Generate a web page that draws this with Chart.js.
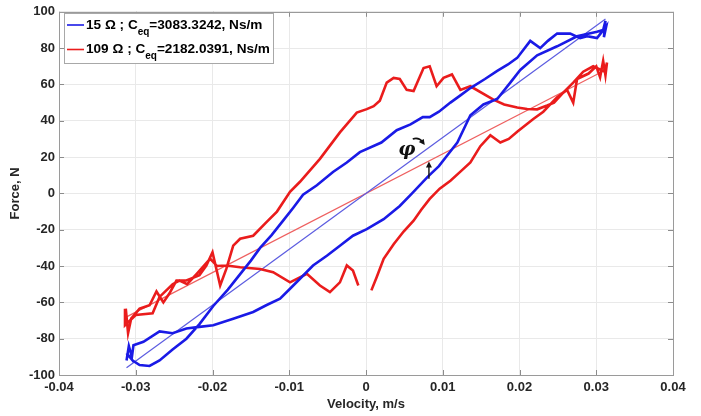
<!DOCTYPE html>
<html>
<head>
<meta charset="utf-8">
<script src="https://cdn.jsdelivr.net/npm/chart.js"></script>
<style>
body { margin: 0; background: #fff; }
</style>
</head>
<body>
<canvas id="hyst_chart" width="701" height="416"></canvas>
<script>
// velocity (m/s), force (N)
var blueVel = [-0.0312, -0.0309, -0.0305, -0.0303, -0.0290, -0.0269, -0.0252, -0.0234, -0.0217, -0.0199, -0.0173, -0.0147, -0.0130, -0.0112, -0.0099, -0.0086, -0.0069, -0.0051, -0.0034, -0.0017, 0.0001, 0.0023, 0.0044, 0.0060, 0.0080, 0.0095, 0.0106, 0.0119, 0.0136, 0.0153, 0.0171, 0.0188, 0.0201, 0.0223, 0.0249, 0.0275, 0.0301, 0.0309, 0.0312, 0.0310, 0.0313,
    0.0301, 0.0288, 0.0279, 0.0266, 0.0249, 0.0237, 0.0227, 0.0214, 0.0197, 0.0185, 0.0171, 0.0155, 0.0136, 0.0123, 0.0110, 0.0095, 0.0083, 0.0074, 0.0058, 0.0040, 0.0020, -0.0008, -0.0025, -0.0043, -0.0064, -0.0082, -0.0095, -0.0108, -0.0123, -0.0138, -0.0150, -0.0165, -0.0180, -0.0199, -0.0217, -0.0234, -0.0252, -0.0269, -0.0282, -0.0295, -0.0304, -0.0312];
var blueForce = [-92, -84, -90, -83.6, -81.7, -76, -77, -74.4, -73.5, -72.6, -69, -65.3, -61.6, -58, -52.5, -47, -39.7, -34.3, -28.8, -23.3, -19.7, -14.2, -6.9, 0, 9, 15, 21, 28, 43, 49, 52, 61, 68, 76, 81, 86.5, 89, 90, 95, 86, 92,
    85.5, 86.6, 85.5, 88, 88, 84, 80, 84, 74.6, 71, 67.5, 63, 58, 54, 50, 45, 42, 42, 38, 34.8, 28, 22.7, 17, 11.8, 4.5, -0.7, -8, -15, -23, -30, -37, -45, -53, -62, -72, -80, -86, -92, -95, -94.5, -92, -88];

var redVel = [0.0007, 0.0014, 0.0023, 0.0036, 0.0049, 0.0062, 0.0072, 0.0083, 0.0096, 0.0110, 0.0123, 0.0136, 0.0149, 0.0162, 0.0175, 0.0186, 0.0197, 0.0218, 0.0231, 0.0249, 0.0262, 0.0270, 0.0275, 0.0290, 0.0300, 0.0305, 0.0309, 0.0312, 0.0314, 0.0311,
    0.0296, 0.0283, 0.0270, 0.0257, 0.0245, 0.0236, 0.0223, 0.0210, 0.0197, 0.0180, 0.0166, 0.0136, 0.0123, 0.0112, 0.0101, 0.0092, 0.0083, 0.0075, 0.0062, 0.0053, 0.0044, 0.0036, 0.0027, 0.0018, 0.0010, 0.0001, -0.0012, -0.0034, -0.0060, -0.0086, -0.0099, -0.0116, -0.0130, -0.0147, -0.0164, -0.0173, -0.0182, -0.0190, -0.0200, -0.0208, -0.0217, -0.0234, -0.0247, -0.0256, -0.0264, -0.0273, -0.0282, -0.0295, -0.0306, -0.0310, -0.0313, -0.0314,
    -0.0300, -0.0278, -0.0269, -0.0252, -0.0243, -0.0233, -0.0220, -0.0203, -0.0194, -0.0182, -0.0164, -0.0138, -0.0121, -0.0099, -0.0077, -0.0060, -0.0047, -0.0034, -0.0025, -0.0017, -0.0010];
var redForce = [-53.4, -46, -36, -28, -21, -15, -9, -3, 2.6, 7, 12, 17, 26, 32, 28, 30, 34, 41, 45, 53, 57, 50, 63, 66, 70, 64, 73, 65, 72, 67,
    70, 67, 61, 55.5, 50, 48.4, 46.3, 46.5, 47.3, 49, 51.6, 59, 57, 65.5, 63.6, 59, 70, 69, 56.4, 57, 63, 63.6, 61, 51, 48, 46.4, 44.5, 33.6, 19, 6.4, 0.9, -10, -16, -23.3, -25, -28.8, -41.6, -50.7, -32.4, -39.7, -45, -48, -48, -55, -60, -54, -61.6, -63.5, -69, -77, -63.5, -72.6,
    -67, -66, -57, -50, -48, -50, -44, -36, -40, -39.7, -40.7, -41.6, -43.4, -49, -44.3, -50.7, -54.4, -49, -39.7, -42.5, -50.7];

// equivalent damping lines (end points)
var blueFitVel = [-0.0312, 0.0312];
var blueFitForce = [-96, 96];
var redFitVel = [-0.0312, 0.0312];
var redFitForce = [-68, 68];

var xTicks = [-0.04, -0.03, -0.02, -0.01, 0, 0.01, 0.02, 0.03, 0.04];
var xTickLabels = ['-0.04', '-0.03', '-0.02', '-0.01', '0', '0.01', '0.02', '0.03', '0.04'];
var yTicks = [-100, -80, -60, -40, -20, 0, 20, 40, 60, 80, 100];

var legendRows = [
    {color: '#1a1ae6', pre: '15 \u03a9 ; C', sub: 'eq', post: '=3083.3242, Ns/m'},
    {color: '#ea1c1c', pre: '109 \u03a9 ; C', sub: 'eq', post: '=2182.0391, Ns/m'}
];

function pts(xs, ys) {
    return xs.map(function (x, i) { return {x: x, y: ys[i]}; });
}

var FONT = "'Liberation Sans', Arial, sans-serif";
var TXT = '#262626';

var boxPlugin = {
    id: 'matlabBox',
    afterDraw: function (chart) {
        var ctx = chart.ctx, a = chart.chartArea;
        var xs = chart.scales.x, ys = chart.scales.y;
        ctx.save();
        // inward ticks
        ctx.strokeStyle = '#8c8c8c';
        ctx.lineWidth = 1;
        ctx.beginPath();
        xTicks.forEach(function (v) {
            var px = Math.round(xs.getPixelForValue(v)) + 0.5;
            ctx.moveTo(px, a.bottom); ctx.lineTo(px, a.bottom - 5);
            ctx.moveTo(px, a.top); ctx.lineTo(px, a.top + 5);
        });
        yTicks.forEach(function (v) {
            var py = Math.round(ys.getPixelForValue(v)) + 0.5;
            ctx.moveTo(a.left, py); ctx.lineTo(a.left + 5, py);
            ctx.moveTo(a.right, py); ctx.lineTo(a.right - 5, py);
        });
        ctx.stroke();
        ctx.strokeStyle = '#9a9a9a';
        ctx.strokeRect(Math.round(a.left) + 0.5, Math.round(a.top) + 0.5, Math.round(a.right - a.left), Math.round(a.bottom - a.top));

        // phi annotation
        var px = xs.getPixelForValue(0.0057), py = ys.getPixelForValue(24.5);
        ctx.fillStyle = '#111';
        ctx.font = "italic bold 19px 'DejaVu Serif', serif";
        ctx.textAlign = 'center';
        ctx.textBaseline = 'middle';
        ctx.fillText('\u03c6', px - 3, py + 1);
        ctx.strokeStyle = '#111';
        ctx.lineWidth = 1.6;
        ctx.beginPath();
        ctx.moveTo(px + 3, py - 10);
        ctx.quadraticCurveTo(px + 9, py - 12, px + 13, py - 7);
        ctx.stroke();
        ctx.beginPath();
        ctx.moveTo(px + 15, py - 4);
        ctx.lineTo(px + 9, py - 7);
        ctx.lineTo(px + 14, py - 10);
        ctx.closePath();
        ctx.fill();

        // small arrow
        var ax = xs.getPixelForValue(0.0082), ay0 = ys.getPixelForValue(8), ay1 = ys.getPixelForValue(17);
        ctx.lineWidth = 1.4;
        ctx.beginPath();
        ctx.moveTo(ax, ay0); ctx.lineTo(ax, ay1 + 3);
        ctx.stroke();
        ctx.beginPath();
        ctx.moveTo(ax, ay1 - 1);
        ctx.lineTo(ax - 3, ay1 + 5);
        ctx.lineTo(ax + 3, ay1 + 5);
        ctx.closePath();
        ctx.fill();

        // legend
        ctx.fillStyle = '#fff';
        ctx.fillRect(65, 14, 208, 49);
        ctx.strokeStyle = '#a8a8a8';
        ctx.lineWidth = 1;
        ctx.strokeRect(64.5, 13.5, 209, 50);
        ctx.textAlign = 'left';
        ctx.textBaseline = 'middle';
        legendRows.forEach(function (r, i) {
            var cy = 25 + i * 24.5;
            ctx.strokeStyle = r.color;
            ctx.lineWidth = 1.6;
            ctx.beginPath();
            ctx.moveTo(67, cy); ctx.lineTo(84, cy);
            ctx.stroke();
            ctx.fillStyle = '#000';
            var x = 86;
            ctx.font = 'bold 13.6px ' + FONT;
            ctx.fillText(r.pre, x, cy);
            x += ctx.measureText(r.pre).width;
            ctx.font = 'bold 10px ' + FONT;
            ctx.fillText(r.sub, x, cy + 7);
            x += ctx.measureText(r.sub).width;
            ctx.font = 'bold 13.6px ' + FONT;
            ctx.fillText(r.post, x, cy);
        });
        ctx.restore();
    }
};

var hyst_chart = new Chart(document.getElementById('hyst_chart'), {
    type: 'scatter',
    data: {
        datasets: [
            {
                label: '15 Ohm',
                data: pts(blueVel, blueForce),
                showLine: true,
                borderColor: '#1a1ae6',
                borderWidth: 2.6,
                pointRadius: 0,
                tension: 0,
            },
            {
                label: '109 Ohm',
                data: pts(redVel, redForce),
                showLine: true,
                borderColor: '#ea1c1c',
                borderWidth: 2.6,
                pointRadius: 0,
                tension: 0,
            },
            {
                label: 'fit 15',
                data: pts(blueFitVel, blueFitForce),
                showLine: true,
                borderColor: '#5c5ce0',
                borderWidth: 1.2,
                pointRadius: 0,
            },
            {
                label: 'fit 109',
                data: pts(redFitVel, redFitForce),
                showLine: true,
                borderColor: '#ee6060',
                borderWidth: 1.2,
                pointRadius: 0,
            }
        ]
    },
    options: {
        responsive: false,
        animation: false,
        devicePixelRatio: 1,
        layout: { padding: { top: 8, right: 28, left: 0, bottom: 0 } },
        scales: {
            x: {
                type: 'linear',
                min: -0.04,
                max: 0.04,
                afterBuildTicks: function (s) { s.ticks = xTicks.map(function (v) { return {value: v}; }); },
                afterFit: function (s) { s.height = 41; },
                grid: { color: '#e9e9e9', drawTicks: false },
                border: { display: false },
                ticks: {
                    padding: 5,
                    color: TXT,
                    font: { family: FONT, size: 13, weight: 'bold' },
                    maxRotation: 0,
                    callback: function (v, i) { return xTickLabels[i]; }
                },
                title: {
                    display: true,
                    text: 'Velocity, m/s',
                    color: TXT,
                    padding: 0,
                    font: { family: FONT, size: 13, weight: 'bold', lineHeight: 1.8 }
                }
            },
            y: {
                min: -100,
                max: 100,
                afterBuildTicks: function (s) { s.ticks = yTicks.map(function (v) { return {value: v}; }); },
                afterFit: function (s) { s.width = 59; },
                grid: { color: '#e9e9e9', drawTicks: false },
                border: { display: false },
                ticks: {
                    padding: 4,
                    color: TXT,
                    font: { family: FONT, size: 13, weight: 'bold' }
                },
                title: {
                    display: true,
                    text: 'Force, N',
                    color: TXT,
                    padding: 0,
                    font: { family: FONT, size: 13, weight: 'bold', lineHeight: 2.3 }
                }
            }
        },
        plugins: {
            legend: { display: false },
            tooltip: { enabled: false }
        }
    },
    plugins: [boxPlugin]
});
</script>
</body>
</html>
